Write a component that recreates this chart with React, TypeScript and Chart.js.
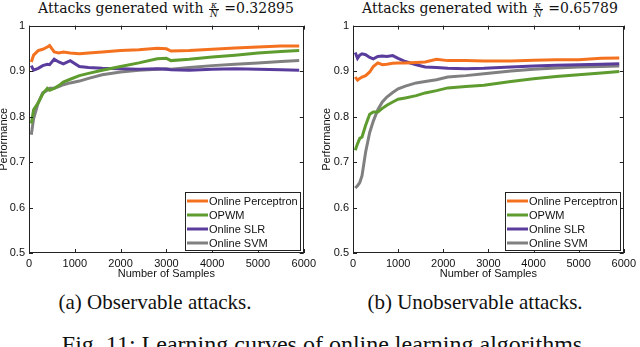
import React, { useEffect, useRef } from "react";
import { Chart, registerables } from "chart.js";

Chart.register(...registerables);

// ---------- data ----------
const SERIES_LABELS = ["Online Perceptron", "OPWM", "Online SLR", "Online SVM"];
const SERIES_COLORS = ["#f4721f", "#5e9c2f", "#5a3c9d", "#808080"];

const X_TICKS = [0, 1000, 2000, 3000, 4000, 5000, 6000];
const Y_TICKS = [0.5, 0.6, 0.7, 0.8, 0.9, 1];

// (a) Observable attacks, kappa/N = 0.32895
const SAMPLES_A = [50, 100, 200, 300, 400, 450, 550, 650, 750, 900, 1100, 1300, 1600, 2000, 2400, 2800, 3000, 3100, 3500, 4000, 4500, 5000, 5500, 5900];
const PERCEPTRON_A = [0.92, 0.935, 0.945, 0.948, 0.953, 0.956, 0.942, 0.94, 0.942, 0.94, 0.938, 0.94, 0.942, 0.945, 0.947, 0.95, 0.949, 0.944, 0.945, 0.948, 0.951, 0.953, 0.955, 0.955];
const OPWM_A = [0.785, 0.815, 0.83, 0.85, 0.862, 0.858, 0.862, 0.868, 0.876, 0.882, 0.89, 0.895, 0.902, 0.91, 0.918, 0.927, 0.928, 0.923, 0.926, 0.931, 0.935, 0.94, 0.943, 0.945];
const SLR_A = [0.912, 0.902, 0.906, 0.912, 0.915, 0.914, 0.926, 0.92, 0.916, 0.923, 0.91, 0.908, 0.906, 0.905, 0.904, 0.905, 0.904, 0.903, 0.902, 0.904, 0.905, 0.904, 0.903, 0.902];
const SVM_A = [0.76, 0.795, 0.83, 0.852, 0.858, 0.862, 0.862, 0.866, 0.87, 0.874, 0.878, 0.884, 0.892, 0.898, 0.902, 0.904, 0.905, 0.904, 0.908, 0.912, 0.915, 0.918, 0.921, 0.923];

// (b) Unobservable attacks, kappa/N = 0.65789
const SAMPLES_B = [50, 100, 150, 200, 280, 370, 450, 550, 650, 750, 880, 1000, 1160, 1400, 1600, 1850, 2100, 2500, 2900, 3500, 4000, 4500, 5000, 5500, 5900];
const PERCEPTRON_B = [0.887, 0.88, 0.884, 0.887, 0.89, 0.898, 0.91, 0.918, 0.914, 0.915, 0.917, 0.918, 0.918, 0.919, 0.92, 0.926, 0.923, 0.923, 0.922, 0.922, 0.924, 0.925, 0.925, 0.928, 0.929];
const OPWM_B = [0.726, 0.74, 0.752, 0.755, 0.781, 0.805, 0.81, 0.81, 0.818, 0.825, 0.832, 0.838, 0.841, 0.846, 0.852, 0.857, 0.863, 0.866, 0.869, 0.877, 0.883, 0.888, 0.892, 0.896, 0.899];
const SLR_B = [0.941, 0.928, 0.935, 0.938, 0.936, 0.93, 0.927, 0.932, 0.933, 0.932, 0.934, 0.928, 0.921, 0.914, 0.909, 0.908, 0.906, 0.905, 0.906, 0.909, 0.911, 0.913, 0.914, 0.915, 0.916];
const SVM_B = [0.643, 0.648, 0.655, 0.67, 0.722, 0.765, 0.79, 0.815, 0.832, 0.843, 0.853, 0.861, 0.867, 0.874, 0.877, 0.881, 0.887, 0.89, 0.894, 0.9, 0.904, 0.907, 0.909, 0.91, 0.911];

const SANS = "'Liberation Sans', Arial, Helvetica, sans-serif";
const SERIF = "'Liberation Serif', 'Times New Roman', serif";
const TITLE_SERIF = "'DejaVu Serif', 'Liberation Serif', serif";

// ---------- plugins ----------
const framePlugin = {
  id: "matlabFrame",
  afterDatasetsDraw(chart: any) {
    const { ctx, chartArea: a, scales } = chart;
    ctx.save();
    ctx.strokeStyle = "#222";
    ctx.lineWidth = 1;
    ctx.strokeRect(Math.round(a.left) + 0.5, Math.round(a.top) + 0.5, Math.round(a.right - a.left) - 1, Math.round(a.bottom - a.top) - 1);
    const tl = 4;
    ctx.beginPath();
    scales.x.ticks.forEach((t: any) => {
      const px = Math.round(scales.x.getPixelForValue(t.value)) + 0.5;
      ctx.moveTo(px, a.bottom);
      ctx.lineTo(px, a.bottom - tl);
      ctx.moveTo(px, a.top);
      ctx.lineTo(px, a.top + tl);
    });
    scales.y.ticks.forEach((t: any) => {
      const py = Math.round(scales.y.getPixelForValue(t.value)) + 0.5;
      ctx.moveTo(a.left, py);
      ctx.lineTo(a.left + tl, py);
      ctx.moveTo(a.right, py);
      ctx.lineTo(a.right - tl, py);
    });
    ctx.stroke();
    ctx.restore();
  },
  afterDraw(chart: any) {
    const { ctx, chartArea: a } = chart;
    const w = 116;
    const h = 59;
    const right = Math.round(a.right) - 3;
    const bottom = Math.round(a.bottom) - 2;
    const left = right - w;
    const top = bottom - h;
    ctx.save();
    ctx.fillStyle = "#fff";
    ctx.fillRect(left, top, w, h);
    ctx.strokeStyle = "#222";
    ctx.lineWidth = 1;
    ctx.strokeRect(left + 0.5, top + 0.5, w - 1, h - 1);
    ctx.font = `11px ${SANS}`;
    ctx.textBaseline = "middle";
    ctx.textAlign = "left";
    chart.data.datasets.forEach((ds: any, i: number) => {
      const y = top + 9 + i * 14;
      ctx.strokeStyle = ds.borderColor;
      ctx.lineWidth = 3;
      ctx.beginPath();
      ctx.moveTo(left + 2, y);
      ctx.lineTo(left + 23, y);
      ctx.stroke();
      ctx.fillStyle = "#111";
      ctx.fillText(ds.label, left + 24, y + 0.5);
    });
    ctx.restore();
  },
};

// ---------- chart component ----------
type PanelProps = {
  samples: number[];
  series: number[][];
  left: number;
  width: number;
  yAxisWidth: number;
  padRight: number;
  yTitlePad: number;
};

function Panel({ samples, series, left, width, yAxisWidth, padRight, yTitlePad }: PanelProps) {
  const ref = useRef<HTMLCanvasElement | null>(null);
  useEffect(() => {
    if (!ref.current) return;
    const chart = new Chart(ref.current, {
      type: "line",
      data: {
        datasets: series.map((vals, i) => ({
          label: SERIES_LABELS[i],
          data: samples.map((x, j) => ({ x, y: vals[j] })),
          borderColor: SERIES_COLORS[i],
          backgroundColor: SERIES_COLORS[i],
          borderWidth: 3,
          pointRadius: 0,
          tension: 0,
          fill: false,
        })),
      },
      options: {
        animation: false,
        responsive: false,
        devicePixelRatio: 1,
        layout: { padding: { top: 10, right: padRight, bottom: 0, left: 0 } },
        plugins: { legend: { display: false }, tooltip: { enabled: false }, title: { display: false } },
        scales: {
          x: {
            type: "linear",
            min: X_TICKS[0],
            max: X_TICKS[X_TICKS.length - 1],
            afterBuildTicks: (s: any) => {
              s.ticks = X_TICKS.map((v) => ({ value: v }));
            },
            afterFit: (s: any) => {
              s.height = 32;
            },
            grid: { display: false, drawTicks: false },
            border: { display: false },
            ticks: {
              padding: 4,
              maxRotation: 0,
              autoSkip: false,
              color: "#111",
              font: { family: SANS, size: 11 },
              callback: (v: any) => String(v),
            },
            title: {
              display: true,
              text: "Number of Samples",
              color: "#111",
              font: { family: SANS, size: 11, lineHeight: 1 },
              padding: { top: 0, bottom: 6 },
            },
          },
          y: {
            type: "linear",
            min: Y_TICKS[0],
            max: Y_TICKS[Y_TICKS.length - 1],
            afterBuildTicks: (s: any) => {
              s.ticks = Y_TICKS.map((v) => ({ value: v }));
            },
            afterFit: (s: any) => {
              s.width = yAxisWidth;
            },
            grid: { display: false, drawTicks: false },
            border: { display: false },
            ticks: {
              padding: 4,
              autoSkip: false,
              color: "#111",
              font: { family: SANS, size: 11 },
              callback: (v: any) => String(Number(Number(v).toFixed(1))),
            },
            title: {
              display: true,
              text: "Performance",
              color: "#111",
              font: { family: SANS, size: 11, lineHeight: 0.8 },
              padding: { top: yTitlePad, bottom: 0 },
            },
          },
        },
      },
      plugins: [framePlugin],
    } as any);
    return () => chart.destroy();
  }, []);
  return (
    <canvas
      ref={ref}
      width={width}
      height={270}
      style={{ position: "absolute", left, top: 15, width, height: 270 }}
    />
  );
}

function Title({ center, value }: { center: number; value: string }) {
  return (
    <div
      style={{
        position: "absolute",
        left: center - 160,
        width: 320,
        top: 0,
        textAlign: "center",
        fontFamily: TITLE_SERIF,
        fontSize: 14,
        lineHeight: "17px",
        whiteSpace: "nowrap",
        color: "#111",
      }}
    >
      Attacks generated with{" "}
      <span
        style={{
          display: "inline-flex",
          flexDirection: "column",
          alignItems: "center",
          verticalAlign: "middle",
          fontSize: 9,
          lineHeight: "8px",
          fontStyle: "italic",
          margin: "0 1px",
        }}
      >
        <span style={{ padding: "0 1px" }}>κ</span>
        <span style={{ borderTop: "1px solid #111", padding: "0 1px" }}>N</span>
      </span>{" "}
      ={value}
    </div>
  );
}

export default function App() {
  return (
    <div style={{ position: "absolute", left: 0, top: 0, width: 640, height: 347, background: "#fff", overflow: "hidden" }}>
      <Title center={166} value="0.32895" />
      <Title center={490} value="0.65789" />
      <Panel samples={SAMPLES_A} series={[PERCEPTRON_A, OPWM_A, SLR_A, SVM_A]} left={0} width={320} yAxisWidth={29} padRight={15} yTitlePad={0} />
      <Panel samples={SAMPLES_B} series={[PERCEPTRON_B, OPWM_B, SLR_B, SVM_B]} left={320} width={320} yAxisWidth={33} padRight={13} yTitlePad={3} />
      <div style={{ position: "absolute", left: 155 - 150, width: 300, top: 292, textAlign: "center", fontFamily: SERIF, fontSize: 21, lineHeight: "21px", whiteSpace: "nowrap", color: "#111" }}>
        (a) Observable attacks.
      </div>
      <div style={{ position: "absolute", left: 475 - 150, width: 300, top: 292, textAlign: "center", fontFamily: SERIF, fontSize: 21, lineHeight: "21px", whiteSpace: "nowrap", color: "#111" }}>
        (b) Unobservable attacks.
      </div>
      <div style={{ position: "absolute", left: 0, width: 650, top: 332, textAlign: "center", fontFamily: SERIF, fontSize: 24, lineHeight: "24px", whiteSpace: "nowrap", color: "#111" }}>
        Fig. 11: Learning curves of online learning algorithms.
      </div>
    </div>
  );
}
